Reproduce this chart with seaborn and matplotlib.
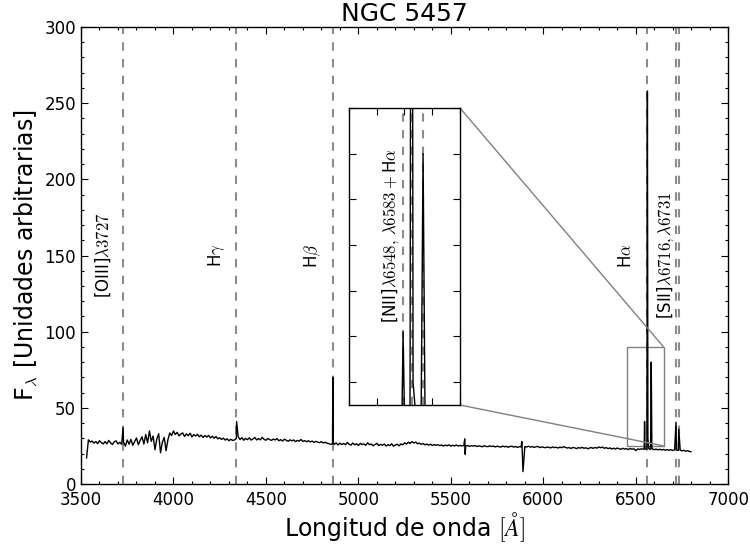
import numpy as np
import pandas as pd
import matplotlib
matplotlib.use("Agg")
import matplotlib.pyplot as plt
import seaborn as sns
from matplotlib.ticker import MultipleLocator
from mpl_toolkits.axes_grid1.inset_locator import mark_inset

# Continuum flux sampled every 10 A from 3530 to 6800 A
wave_grid = np.arange(3530, 6801, 10)
flux_grid = [
    17.0, 29.0, 27.5, 28.2, 26.8, 27.9, 26.5, 28.4, 27.1, 26.3,
    27.8, 26.4, 28.6, 27.0, 25.9, 27.7, 28.3, 26.2, 27.4, 26.0,
    27.5, 24.8, 28.9, 26.1, 29.3, 25.4, 27.9, 30.2, 25.8, 28.6,
    31.0, 26.2, 32.5, 27.0, 34.8, 28.0, 31.5, 22.5, 29.5, 33.0,
    20.5, 27.5, 30.5, 21.8, 29.0, 33.5, 31.8, 34.8, 32.5, 33.9,
    31.6, 32.8, 33.5, 31.2, 32.9, 31.7, 33.3, 30.9, 32.4, 31.5,
    32.6, 31.0, 32.1, 30.5, 31.8, 30.8, 31.9, 30.2, 31.4, 30.0,
    31.2, 29.6, 30.4, 29.2, 30.1, 28.8, 29.7, 28.4, 29.3, 28.6,
    28.9, 29.8, 31.0, 29.2, 30.4, 28.7, 29.9, 29.1, 30.3, 28.8,
    29.6, 30.5, 28.9, 29.8, 29.0, 30.6, 29.3, 28.7, 29.9, 29.2,
    28.6, 29.5, 28.9, 29.8, 28.4, 29.1, 28.2, 29.4, 28.7, 28.0,
    29.0, 28.3, 28.9, 27.8, 28.6, 28.1, 29.2, 27.9, 28.5, 27.7,
    28.4, 27.6, 28.2, 27.3, 28.0, 27.5, 27.1, 27.8, 26.9, 27.4,
    26.8, 26.5, 26.0, 26.3, 26.0, 27.0, 25.6, 26.8, 25.9, 26.6,
    25.8, 27.2, 26.1, 25.5, 26.9, 25.7, 26.4, 25.3, 26.6, 25.9,
    26.3, 25.4, 27.0, 25.8, 26.2, 25.1, 25.9, 26.7, 25.2, 26.0,
    25.4, 26.2, 24.9, 25.8, 25.2, 26.4, 24.8, 25.6, 26.1, 25.0,
    26.3, 25.7, 27.0, 26.2, 27.4, 26.6, 27.8, 26.9, 27.5, 26.4,
    26.8, 26.0, 26.5, 25.7, 26.2, 25.5, 26.1, 25.3, 25.9, 25.4,
    25.8, 25.2, 25.6, 24.9, 25.5, 25.1, 25.7, 24.8, 25.4, 25.0,
    25.6, 24.9, 25.3, 25.0, 25.2, 24.8, 25.3, 24.7, 25.1, 24.9,
    25.2, 24.6, 25.0, 24.8, 24.4, 25.1, 24.7, 24.5, 25.0, 24.6,
    24.9, 24.3, 24.8, 24.5, 24.2, 24.9, 24.4, 24.7, 24.1, 24.6,
    24.8, 24.2, 24.6, 24.0, 24.5, 24.4, 8.1, 24.6, 24.3, 24.8,
    24.2, 24.6, 24.0, 24.4, 24.7, 23.9, 24.3, 24.1, 23.8, 24.2,
    24.0, 23.7, 24.3, 23.9, 24.1, 23.6, 24.2, 23.8, 24.5, 24.0,
    23.6, 23.9, 23.3, 24.0, 23.7, 23.2, 23.9, 23.5, 24.1, 23.4,
    23.8, 23.1, 23.6, 23.9, 23.4, 24.0, 23.5, 24.3, 23.8, 24.2,
    23.4, 23.9, 23.2, 23.7, 23.0, 23.5, 22.9, 23.6, 23.1, 22.8,
    23.4, 22.9, 23.2, 22.6, 23.3, 22.8, 23.1, 21.9, 23.0, 22.7,
    23.1, 22.8, 23.0, 22.9, 23.2, 22.7, 23.0, 22.5, 22.9, 22.4,
    22.8, 22.3, 22.7, 22.2, 22.6, 22.1, 22.5, 22.0, 22.4, 22.2,
    22.0, 22.3, 21.7, 22.1, 21.5, 21.9, 21.3, 21.2,
]

# Emission / sky features sampled between the continuum points
wave_lines = [3727.5, 4341.5, 4862.0, 4864.5, 5575.0, 5577.5, 5884.0,
              6545.5, 6547.5, 6562.8, 6565.5, 6583.5, 6587.0, 6717.5, 6732.5]
flux_lines = [37.0, 41.0, 70.0, 27.0, 29.6, 19.5, 27.8,
              23.0, 41.0, 258.0, 30.0, 80.0, 23.5, 40.5, 36.0]

# Line identifications
main_lines = [3727, 4340, 4861, 6563, 6716, 6731]
label_x = [3620, 4235, 4755, 6448, 6658]
label_text = [r"[OIII]$\lambda3727$", r"H$\gamma$", r"H$\beta$", r"H$\alpha$",
              r"[SII]$\lambda6716,\lambda6731$"]
label_y = 150
inset_lines = [6548, 6563, 6583]
inset_label = r"[NII]$\lambda6548,\,\lambda6583+$H$\alpha$"

spec = pd.DataFrame({
    "wave": np.concatenate([wave_grid, wave_lines]),
    "flux": np.concatenate([flux_grid, flux_lines]),
}).sort_values("wave").reset_index(drop=True)

sns.set_style("white")
plt.rcParams.update({
    "font.family": ["DejaVu Sans"],
    "mathtext.fontset": "cm",
    "text.color": "black",
    "axes.labelcolor": "black",
    "xtick.color": "black",
    "ytick.color": "black",
    "xtick.direction": "in",
    "ytick.direction": "in",
    "xtick.top": True,
    "ytick.right": True,
    "axes.edgecolor": "black",
    "axes.linewidth": 1.0,
    "lines.scale_dashes": False,
})

fig = plt.figure(figsize=(7.5, 5.46), dpi=100)
ax = fig.add_axes([0.108, 0.1136, 0.863, 0.8369])

sns.lineplot(data=spec, x="wave", y="flux", ax=ax, color="black",
             linewidth=1.0, estimator=None, sort=False)
for w in main_lines:
    ax.axvline(w, color="0.55", linestyle=(0, (6, 6)), linewidth=1.5, zorder=0)
for x, t in zip(label_x, label_text):
    ax.text(x, label_y, t, rotation=90, ha="center", va="center", fontsize=12,
            color="black")

ax.set_xlim(3500, 7000)
ax.set_ylim(0, 300)
ax.xaxis.set_major_locator(MultipleLocator(500))
ax.xaxis.set_minor_locator(MultipleLocator(100))
ax.yaxis.set_major_locator(MultipleLocator(50))
ax.yaxis.set_minor_locator(MultipleLocator(10))
ax.tick_params(which="both", direction="in", top=True, right=True,
               bottom=True, left=True, labelsize=12, colors="black")
ax.tick_params(which="major", length=5, width=0.8)
ax.tick_params(which="minor", length=2.5, width=0.8)
ax.tick_params(axis="x", which="major", pad=5)
ax.set_xlabel(r"Longitud de onda $[\mathit{Å}]$", fontsize=17, color="black",
              labelpad=1)
ax.set_ylabel(r"F$_\lambda$ [Unidades arbitrarias]", fontsize=17, color="black")
ax.set_title("NGC 5457", fontsize=18, color="black", pad=4)

# Zoom on the [NII] + Halpha complex
axins = fig.add_axes([0.4653, 0.2582, 0.148, 0.544])
sns.lineplot(data=spec, x="wave", y="flux", ax=axins, color="black",
             linewidth=1.0, estimator=None, sort=False)
for w in inset_lines:
    axins.axvline(w, color="0.55", linestyle=(0, (6, 6)), linewidth=1.5, zorder=0)
axins.set_xlim(6450, 6650)
axins.set_ylim(25, 90)
axins.xaxis.set_major_locator(MultipleLocator(50))
axins.yaxis.set_major_locator(MultipleLocator(10))
axins.tick_params(which="both", direction="in", top=True, right=True,
                  bottom=True, left=True, labelbottom=False, labelleft=False,
                  length=5, width=0.8, colors="black")
axins.set_xlabel("")
axins.set_ylabel("")
axins.text(6524, 62, inset_label, rotation=90, ha="center", va="center",
           fontsize=12, color="black")
for s in axins.spines.values():
    s.set_color("black")
mark_inset(ax, axins, loc1=1, loc2=4, fc="none", ec="0.5", lw=1.0)

fig.savefig("out.png", dpi=100)
